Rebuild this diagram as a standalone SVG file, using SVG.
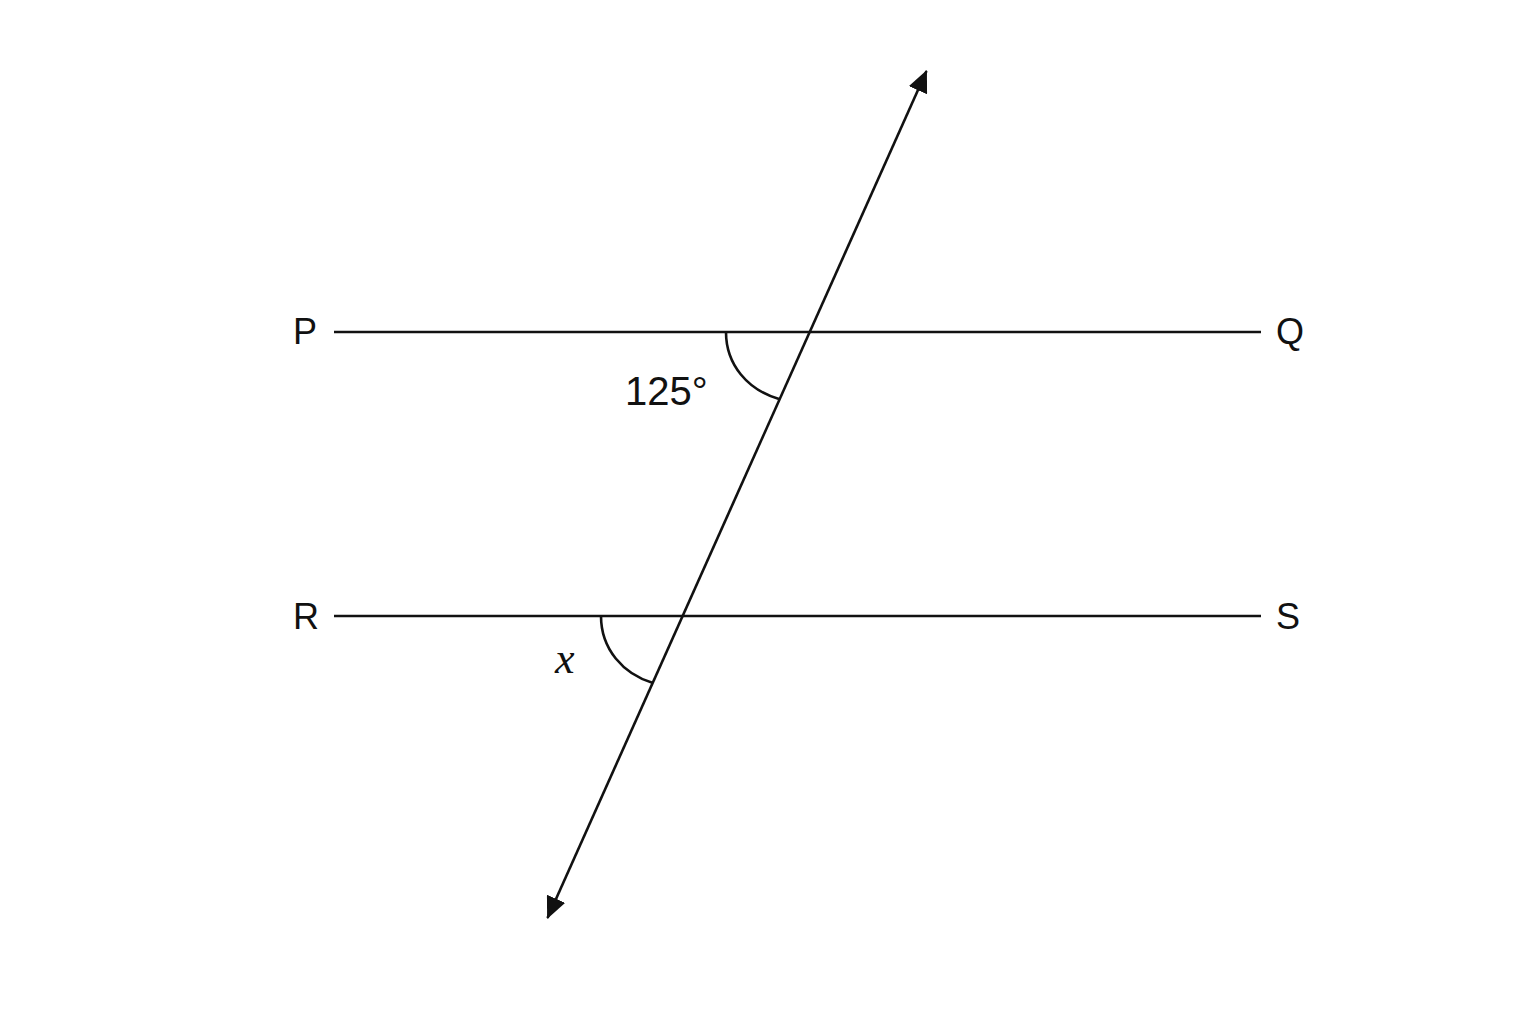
<svg xmlns="http://www.w3.org/2000/svg" width="1536" height="1024" viewBox="0 0 1536 1024">
<defs>
<style>
.ln{stroke:#111;stroke-width:2.6;fill:none}
.lbl{font-family:"Liberation Sans",Arial,sans-serif;font-size:36px;fill:#111}
.ang{font-family:"Liberation Sans",Arial,sans-serif;font-size:40px;fill:#111}
.var{font-family:"Liberation Serif","Times New Roman",serif;font-style:italic;font-size:44px;fill:#111}
</style>
<marker id="ah" viewBox="0 0 22 20" refX="21" refY="10" markerWidth="22" markerHeight="20" markerUnits="userSpaceOnUse" orient="auto-start-reverse">
<path d="M0,0 L22,10 L0,20 Z" fill="#111"/>
</marker>
</defs>
<rect width="1536" height="1024" fill="#fff"/>
<g id="connectors">
<line id="PQ" class="ln" x1="334" y1="332" x2="1261" y2="332"/>
<line id="RS" class="ln" x1="334" y1="616" x2="1261" y2="616"/>
<line id="transversal" class="ln" x1="547.5" y1="918" x2="926.5" y2="71" marker-start="url(#ah)" marker-end="url(#ah)"/>
<path id="arc-top" class="ln" d="M726,332 C726,365 748,390 779,399"/>
<path id="arc-bottom" class="ln" d="M601,616 C601,649 623,674 653,683"/>
</g>
<g id="node-P"><text class="lbl" x="293" y="344">P</text></g>
<g id="node-Q"><text class="lbl" x="1276" y="344">Q</text></g>
<g id="node-R"><text class="lbl" x="293" y="629">R</text></g>
<g id="node-S"><text class="lbl" x="1276" y="629">S</text></g>
<g id="label-125"><text class="ang" x="625" y="405">125°</text></g>
<g id="label-x"><text class="var" x="555" y="673">x</text></g>
</svg>
